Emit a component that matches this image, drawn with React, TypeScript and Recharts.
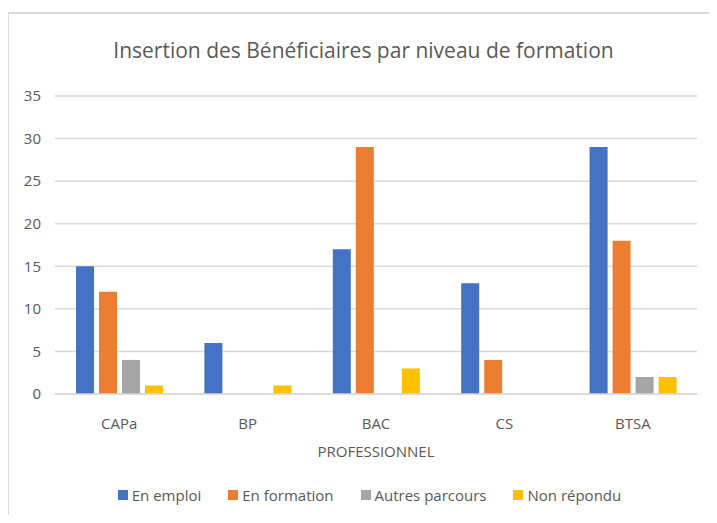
import React from 'react';
import { BarChart, Bar, XAxis, YAxis, CartesianGrid, Legend } from 'recharts';

const categories = ['CAPa', 'BP', 'BAC PROFESSIONNEL', 'CS', 'BTSA'];
const enEmploi = [15, 6, 17, 13, 29];
const enFormation = [12, 0, 29, 4, 18];
const autresParcours = [4, 0, 0, 0, 2];
const nonRepondu = [1, 1, 3, 0, 2];
const yTicks = [0, 5, 10, 15, 20, 25, 30, 35];

const series = [
    { key: 'emploi', name: 'En emploi', color: '#4472C4', values: enEmploi },
    { key: 'formation', name: 'En formation', color: '#ED7D31', values: enFormation },
    { key: 'autres', name: 'Autres parcours', color: '#A5A5A5', values: autresParcours },
    { key: 'nonrep', name: 'Non répondu', color: '#FFC000', values: nonRepondu },
];

const data = categories.map((cat, i) => {
    const row: Record<string, string | number> = { cat };
    series.forEach(s => { row[s.key] = s.values[i]; });
    return row;
});

const FONT = '"Open Sans", sans-serif';
const TEXT = '#595959';

const CategoryTick = (props: any) => {
    const { x, y, payload } = props;
    const lines = String(payload.value).split(' ');
    return (
        <text x={x} y={y} textAnchor="middle" fill={TEXT} fontSize={15} fontFamily={FONT}>
            {lines.map((line, i) => (
                <tspan key={i} x={x} dy={i === 0 ? 27 : 28}>{line}</tspan>
            ))}
        </text>
    );
};

const LegendContent = () => (
    <div style={{ display: 'flex', justifyContent: 'center', gap: 27, paddingLeft: 42, fontFamily: FONT, fontSize: 15, color: TEXT }}>
        {series.map(s => (
            <div key={s.key} style={{ display: 'flex', alignItems: 'center', gap: 4 }}>
                <span style={{ width: 10, height: 10, background: s.color, display: 'inline-block' }} />
                <span>{s.name}</span>
            </div>
        ))}
    </div>
);

const App: React.FC = () => {
    return (
        <div style={{ position: 'relative', width: 717, height: 523, margin: -8, background: '#fff', overflow: 'hidden' }}>
            <div style={{ position: 'absolute', left: 7, top: 12, right: -2, bottom: -2, borderTop: '2px solid #d9d9d9', borderLeft: '2px solid #d9d9d9' }} />
            <div style={{ position: 'absolute', left: 10, right: 0, top: 36, textAlign: 'center', fontFamily: FONT, fontSize: 21, color: TEXT }}>
                Insertion des Bénéficiaires par niveau de formation
            </div>
            <div style={{ position: 'absolute', left: 0, top: 0 }}>
                <BarChart width={717} height={523} data={data} margin={{ top: 96, right: 20, left: 0, bottom: 18 }} barSize={18} barGap={5}>
                    <CartesianGrid vertical={false} stroke="#d9d9d9" strokeWidth={1.5} />
                    <XAxis dataKey="cat" height={91} tickLine={false} axisLine={{ stroke: '#d9d9d9', strokeWidth: 1.5 }} tick={<CategoryTick />} interval={0} />
                    <YAxis width={55} domain={[0, 35]} ticks={yTicks} tickLine={false} axisLine={false} tickSize={0} tickMargin={14}
                        tick={{ fill: TEXT, fontSize: 15, fontFamily: FONT }} />
                    <Legend verticalAlign="bottom" content={<LegendContent />} />
                    {series.map(s => (
                        <Bar key={s.key} dataKey={s.key} name={s.name} fill={s.color} isAnimationActive={false} />
                    ))}
                </BarChart>
            </div>
        </div>
    );
};

export default App;
